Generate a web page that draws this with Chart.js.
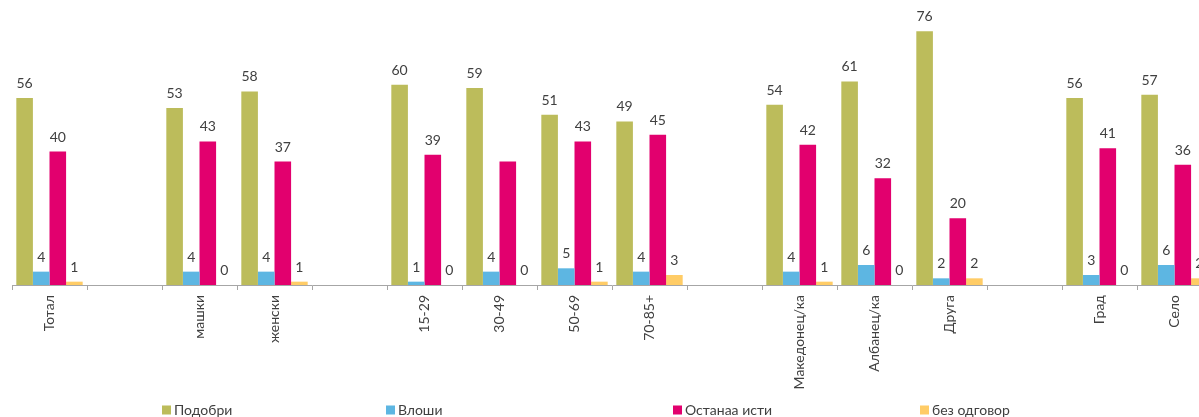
<!DOCTYPE html>
<html>
<head>
<meta charset="utf-8">
<script src="https://cdn.jsdelivr.net/npm/chart.js@4/dist/chart.umd.min.js"></script>
<style>
html,body{margin:0;padding:0;background:#fff;overflow:hidden;width:1199px;height:417px;}
canvas{display:block;}
</style>
</head>
<body>
<canvas id="c" width="1215" height="417" style="width:1215px;height:417px"></canvas>
<script>
const categories = ['Тотал', '', 'машки', 'женски', '', '15-29', '30-49', '50-69', '70-85+', '', 'Македонец/ка', 'Албанец/ка', 'Друга', '', 'Град', 'Село'];
const seriesNames = ['Подобри', 'Влоши', 'Останаа исти', 'без одговор'];
const podobri = [56, null, 53, 58, null, 60, 59, 51, 49, null, 54, 61, 76, null, 56, 57];
const vloshi  = [4, null, 4, 4, null, 1, 4, 5, 4, null, 4, 6, 2, null, 3, 6];
const ostanaa = [40, null, 43, 37, null, 39, 37, 43, 45, null, 42, 32, 20, null, 41, 36];
const bez     = [1, null, 0, 1, null, 0, 0, 1, 3, null, 1, 0, 2, null, 0, 2];
// value labels not shown in the original: [datasetIndex, categoryIndex]
const hiddenLabels = [[2, 6]];

const colors = ['#BCBC5B', '#5DB6E2', '#E2006E', '#FFCC66'];
const FONT = 'Lato, "Open Sans", sans-serif';

const valueLabels = {
  id: 'valueLabels',
  afterDatasetsDraw(chart) {
    const ctx = chart.ctx;
    ctx.save();
    ctx.font = '14px ' + FONT;
    ctx.fillStyle = '#404040';
    ctx.textAlign = 'center';
    ctx.textBaseline = 'alphabetic';
    chart.data.datasets.forEach((ds, di) => {
      const meta = chart.getDatasetMeta(di);
      meta.data.forEach((bar, i) => {
        const v = ds.data[i];
        if (v === null || v === undefined) return;
        if (hiddenLabels.some(h => h[0] === di && h[1] === i)) return;
        ctx.fillText(String(v), bar.x, bar.y - 10);
      });
    });
    ctx.restore();
  }
};

const customLegend = {
  id: 'customLegend',
  afterDraw(chart, args, opts) {
    const ctx = chart.ctx;
    ctx.save();
    ctx.font = '14px ' + FONT;
    ctx.textBaseline = 'middle';
    ctx.textAlign = 'left';
    chart.data.datasets.forEach((ds, di) => {
      const x = opts.xs[di];
      const y = opts.y;
      ctx.fillStyle = ds.backgroundColor;
      ctx.fillRect(x, y - 4.5, 9, 9);
      ctx.fillStyle = '#404040';
      ctx.fillText(ds.label, x + 12, y);
    });
    ctx.restore();
  }
};

const datasets = [podobri, vloshi, ostanaa, bez].map((d, i) => ({
  label: seriesNames[i],
  data: d,
  backgroundColor: colors[i],
  borderWidth: 0,
  categoryPercentage: 0.885,
  barPercentage: 1.0
}));

new Chart(document.getElementById('c'), {
  type: 'bar',
  data: { labels: categories, datasets },
  options: {
    responsive: false,
    animation: false,
    layout: { padding: { left: 12, right: 3, top: 18, bottom: 0 } },
    plugins: {
      legend: { display: false },
      tooltip: { enabled: false },
      customLegend: { xs: [162, 386, 673, 920], y: 410 }
    },
    scales: {
      x: {
        offset: true,
        border: { display: true, color: '#A6A6A6', width: 1 },
        grid: { offset: true, drawOnChartArea: false, drawTicks: true, tickLength: 5, color: '#A6A6A6' },
        ticks: {
          autoSkip: false, minRotation: 90, maxRotation: 90, padding: 5,
          color: '#404040', font: { family: FONT, size: 14 }
        },
        afterFit(scale) { scale.height = 132; }
      },
      y: {
        display: false,
        min: 0, max: 80
      }
    }
  },
  plugins: [valueLabels, customLegend]
});
</script>
</body>
</html>
